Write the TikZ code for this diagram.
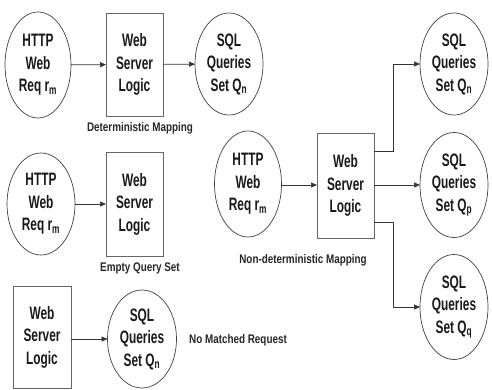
\documentclass[tikz,border=0pt]{standalone}
\usepackage{fontspec}
\setmainfont{Liberation Sans}[FakeStretch=0.66]
\newfontfamily\labfont{Liberation Sans}[FakeStretch=0.79]
\usetikzlibrary{shapes.geometric,arrows.meta}
\begin{document}
\begin{tikzpicture}[x=1pt,y=-1pt,
  every node/.style={inner sep=0pt,outer sep=0pt},
  txt/.style={align=center,font=\fontsize{18}{22.5}\selectfont\bfseries,text=black!90},
  ell/.style={txt,draw=black!75,line width=0.7pt,ellipse},
  box/.style={txt,draw=black!60,line width=0.7pt,rectangle},
  lab/.style={font=\labfont\fontsize{12.5}{14}\selectfont\bfseries,text=black!85},
  arr/.style={draw=black!80,line width=0.7pt,-{Triangle[length=6pt,width=5pt]}}]
\useasboundingbox (0,0) rectangle (492,389);
% row 1
\node[ell,minimum width=66,minimum height=106] (e1) at (38,65) {HTTP\\Web\\Req r\textsubscript{m}};
\node[box,minimum width=57,minimum height=103] (b1) at (134.5,64.5) {Web\\Server\\Logic};
\node[ell,minimum width=68,minimum height=102] (e2) at (229,64) {SQL\\Queries\\Set Q\textsubscript{n}};
\node[lab] (l1) at (140,128) {Deterministic Mapping};
\draw[arr] (e1) -- (b1);
\draw[arr] (b1) -- (e2);
% row 2
\node[ell,minimum width=68,minimum height=102] (e3) at (41,204) {HTTP\\Web\\Req r\textsubscript{m}};
\node[box,minimum width=57,minimum height=104] (b2) at (134.5,204) {Web\\Server\\Logic};
\node[lab] (l2) at (140,268) {Empty Query Set};
\draw[arr] (e3) -- (b2);
% row 3
\node[box,minimum width=58,minimum height=102] (b3) at (42,337) {Web\\Server\\Logic};
\node[ell,minimum width=69,minimum height=98] (e4) at (142,339) {SQL\\Queries\\Set Q\textsubscript{n}};
\node[lab] (l3) at (238,340) {No Matched Request};
\draw[arr] (b3.east |- e4) -- (e4);
% right group
\node[ell,minimum width=67,minimum height=106] (e5) at (248,184) {HTTP\\Web\\Req r\textsubscript{m}};
\node[box,minimum width=57,minimum height=105] (b4) at (345.5,185.5) {Web\\Server\\Logic};
\node[ell,minimum width=68,minimum height=102] (e6) at (454,64) {SQL\\Queries\\Set Q\textsubscript{n}};
\node[ell,minimum width=68,minimum height=105] (e7) at (454,185) {SQL\\Queries\\Set Q\textsubscript{p}};
\node[ell,minimum width=68,minimum height=105] (e8) at (454,307) {SQL\\Queries\\Set Q\textsubscript{q}};
\node[lab] (l4) at (303,260) {Non-deterministic Mapping};
\coordinate (bu) at (374,151);
\coordinate (bl) at (374,222);
\draw[arr] (e5.east |- 0,185) -- (b4.west |- 0,185);
\draw[arr] (b4.east |- e7) -- (e7);
\draw[arr] (bu) -- (393,151) |- (e6.west);
\draw[arr] (bl) -- (393,222) |- (e8.west);
\end{tikzpicture}
\end{document}
